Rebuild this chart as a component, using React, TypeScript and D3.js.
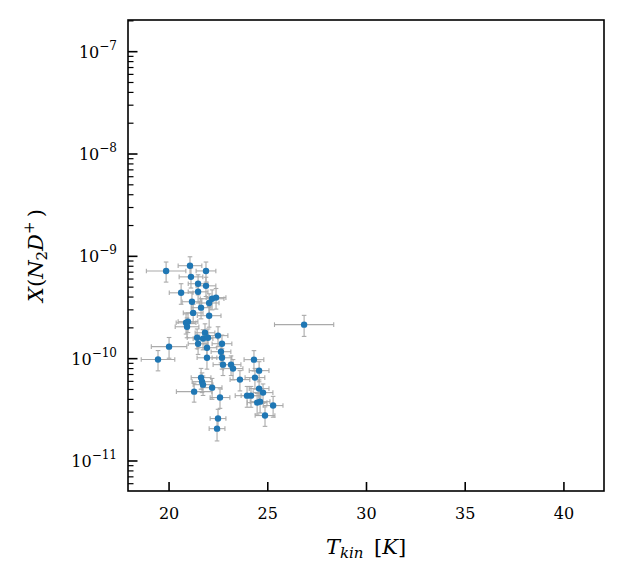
import * as d3 from 'd3';
import React, { useEffect, useRef } from 'react';

// kinetic temperature [K] and its uncertainty
const tkin = [
  19.85, 21.06, 21.87, 21.11, 21.47, 21.87, 20.61, 21.47, 21.16, 22.18, 22.38, 22.03, 21.62, 21.22,
  22.03, 20.96, 20.86, 20.91, 21.82, 22.48, 21.42, 21.72, 21.97, 21.47, 22.68, 21.92, 20.0, 22.63,
  21.92, 22.68, 19.44, 22.73, 23.14, 23.24, 24.3, 24.56, 23.59, 24.35, 21.62, 21.67, 21.72, 22.18,
  21.27, 24.56, 24.76, 23.95, 24.15, 24.61, 24.46, 25.27, 24.86, 22.58, 22.48, 22.43, 26.84,
];
const tkinErr = [
  1.0, 0.6, 0.5, 0.6, 0.5, 0.5, 0.6, 0.5, 0.5, 0.6, 0.5, 0.5, 0.5, 0.5, 0.6, 0.5, 0.5, 0.6, 0.5, 0.5,
  0.5, 0.5, 0.5, 0.5, 0.5, 0.5, 0.9, 0.5, 0.5, 0.5, 0.85, 0.5, 0.5, 0.5, 0.5, 0.5, 0.5, 0.5, 0.5, 0.5,
  0.5, 0.5, 0.9, 0.5, 0.5, 0.6, 0.5, 0.5, 0.5, 0.5, 0.5, 0.5, 0.4, 0.4, 1.5,
];
// N2D+ abundance, in units of 1e-10
const xn2d = [
  7.2, 8.1, 7.2, 6.3, 5.4, 5.15, 4.4, 4.5, 3.6, 3.85, 3.95, 3.5, 3.15, 2.8, 2.63, 2.3, 2.24, 2.05,
  1.79, 1.68, 1.6, 1.57, 1.6, 1.4, 1.4, 1.28, 1.31, 1.17, 1.02, 1.02, 0.98, 0.874, 0.874, 0.8, 0.978,
  0.764, 0.624, 0.653, 0.653, 0.596, 0.557, 0.521, 0.476, 0.51, 0.466, 0.435, 0.435, 0.38, 0.372,
  0.348, 0.278, 0.417, 0.26, 0.207, 2.15,
];
const xn2dErr = [
  1.6, 1.8, 1.6, 1.4, 1.2, 1.1, 1.0, 1.0, 0.8, 0.85, 0.9, 0.8, 0.7, 0.6, 0.6, 0.5, 0.5, 0.45, 0.4,
  0.37, 0.35, 0.35, 0.35, 0.3, 0.3, 0.28, 0.3, 0.26, 0.23, 0.23, 0.22, 0.19, 0.19, 0.18, 0.22, 0.17,
  0.14, 0.15, 0.15, 0.13, 0.12, 0.12, 0.1, 0.11, 0.1, 0.1, 0.1, 0.085, 0.085, 0.08, 0.06, 0.09, 0.06,
  0.05, 0.5,
];

const xTicks = [20, 25, 30, 35, 40];
const yTickExps = [-11, -10, -9, -8, -7];

const App: React.FC = () => {
  const ref = useRef<SVGSVGElement | null>(null);
  const width = 624;
  const height = 583;

  useEffect(() => {
    if (!ref.current) return;
    document.body.style.margin = '0';
    const svg = d3.select(ref.current);
    svg.selectAll('*').remove();

    const left = 128, right = 604, top = 20, bottom = 491;
    const font = 'DejaVu Serif';

    const x = d3.scaleLinear().domain([17.92, 42.03]).range([left, right]);
    const y = d3.scaleLog().domain([5.09e-12, 2.04e-7]).range([bottom, top]);

    const pts = tkin.map((t, i) => ({
      t,
      te: tkinErr[i],
      v: xn2d[i] * 1e-10,
      ve: xn2dErr[i] * 1e-10,
    }));

    // error bars
    const eb = svg.append('g').attr('stroke', '#aaaaaa').attr('stroke-width', 1.1).attr('fill', 'none');
    const cap = 2.3;
    pts.forEach((p) => {
      const cx = x(p.t), cy = y(p.v);
      const x0 = x(p.t - p.te), x1 = x(p.t + p.te);
      const y0 = y(p.v - p.ve), y1 = y(p.v + p.ve);
      eb.append('line').attr('x1', x0).attr('x2', x1).attr('y1', cy).attr('y2', cy);
      eb.append('line').attr('x1', cx).attr('x2', cx).attr('y1', y0).attr('y2', y1);
      eb.append('line').attr('x1', x0).attr('x2', x0).attr('y1', cy - cap).attr('y2', cy + cap);
      eb.append('line').attr('x1', x1).attr('x2', x1).attr('y1', cy - cap).attr('y2', cy + cap);
      eb.append('line').attr('x1', cx - cap).attr('x2', cx + cap).attr('y1', y0).attr('y2', y0);
      eb.append('line').attr('x1', cx - cap).attr('x2', cx + cap).attr('y1', y1).attr('y2', y1);
    });

    // markers
    svg
      .append('g')
      .selectAll('circle')
      .data(pts)
      .enter()
      .append('circle')
      .attr('cx', (d) => x(d.t))
      .attr('cy', (d) => y(d.v))
      .attr('r', 3.2)
      .attr('fill', '#1f77b4');

    // frame
    svg
      .append('rect')
      .attr('x', left)
      .attr('y', top)
      .attr('width', right - left)
      .attr('height', bottom - top)
      .attr('fill', 'none')
      .attr('stroke', '#000')
      .attr('stroke-width', 1.6);

    // x ticks (inward)
    const gx = svg.append('g');
    xTicks.forEach((t) => {
      gx.append('line')
        .attr('x1', x(t)).attr('x2', x(t))
        .attr('y1', bottom).attr('y2', bottom - 9)
        .attr('stroke', '#000').attr('stroke-width', 1.6);
      gx.append('text')
        .attr('x', x(t)).attr('y', bottom + 28)
        .attr('text-anchor', 'middle')
        .style('font-family', font).style('font-size', '16px')
        .text(t);
    });

    // y ticks: majors + log minors
    const gy = svg.append('g');
    const [d0, d1] = y.domain();
    for (let e = -12; e <= -7; e++) {
      for (let k = 2; k <= 9; k++) {
        const v = k * Math.pow(10, e);
        if (v < d0 || v > d1) continue;
        gy.append('line')
          .attr('x1', left).attr('x2', left + 5.5)
          .attr('y1', y(v)).attr('y2', y(v))
          .attr('stroke', '#000').attr('stroke-width', 1.2);
      }
    }
    yTickExps.forEach((e) => {
      const yy = y(Math.pow(10, e));
      gy.append('line')
        .attr('x1', left).attr('x2', left + 9.5)
        .attr('y1', yy).attr('y2', yy)
        .attr('stroke', '#000').attr('stroke-width', 1.6);
      const txt = gy.append('text')
        .attr('x', 117).attr('y', yy + 6)
        .attr('text-anchor', 'end')
        .style('font-family', font).style('font-size', '16px');
      txt.append('tspan').text('10');
      txt.append('tspan').attr('dy', -8).style('font-size', '12px').text(`\u2212${-e}`);
    });

    // axis labels
    const xl = svg.append('text')
      .attr('x', (left + right) / 2).attr('y', 554)
      .attr('text-anchor', 'middle')
      .style('font-family', font).style('font-size', '21px');
    xl.append('tspan').style('font-style', 'italic').text('T');
    xl.append('tspan').attr('dy', 4).style('font-style', 'italic').style('font-size', '15px').text('kin');
    xl.append('tspan').attr('dy', -4).text('\u2002[');
    xl.append('tspan').style('font-style', 'italic').text('K');
    xl.append('tspan').text(']');

    const yl = svg.append('text')
      .attr('transform', `translate(43,${(top + bottom) / 2}) rotate(-90)`)
      .attr('text-anchor', 'middle')
      .style('font-family', font).style('font-size', '21px');
    yl.append('tspan').style('font-style', 'italic').text('X');
    yl.append('tspan').text('(');
    yl.append('tspan').style('font-style', 'italic').text('N');
    yl.append('tspan').attr('dy', 4).style('font-size', '15px').text('2');
    yl.append('tspan').attr('dy', -4).style('font-style', 'italic').text('D');
    yl.append('tspan').attr('dy', -9).style('font-size', '15px').text('+');
    yl.append('tspan').attr('dy', 9).text('\u2009)');
  }, []);

  return <svg ref={ref} width={width} height={height} style={{ display: 'block', background: '#fff' }}></svg>;
};

export default App;
